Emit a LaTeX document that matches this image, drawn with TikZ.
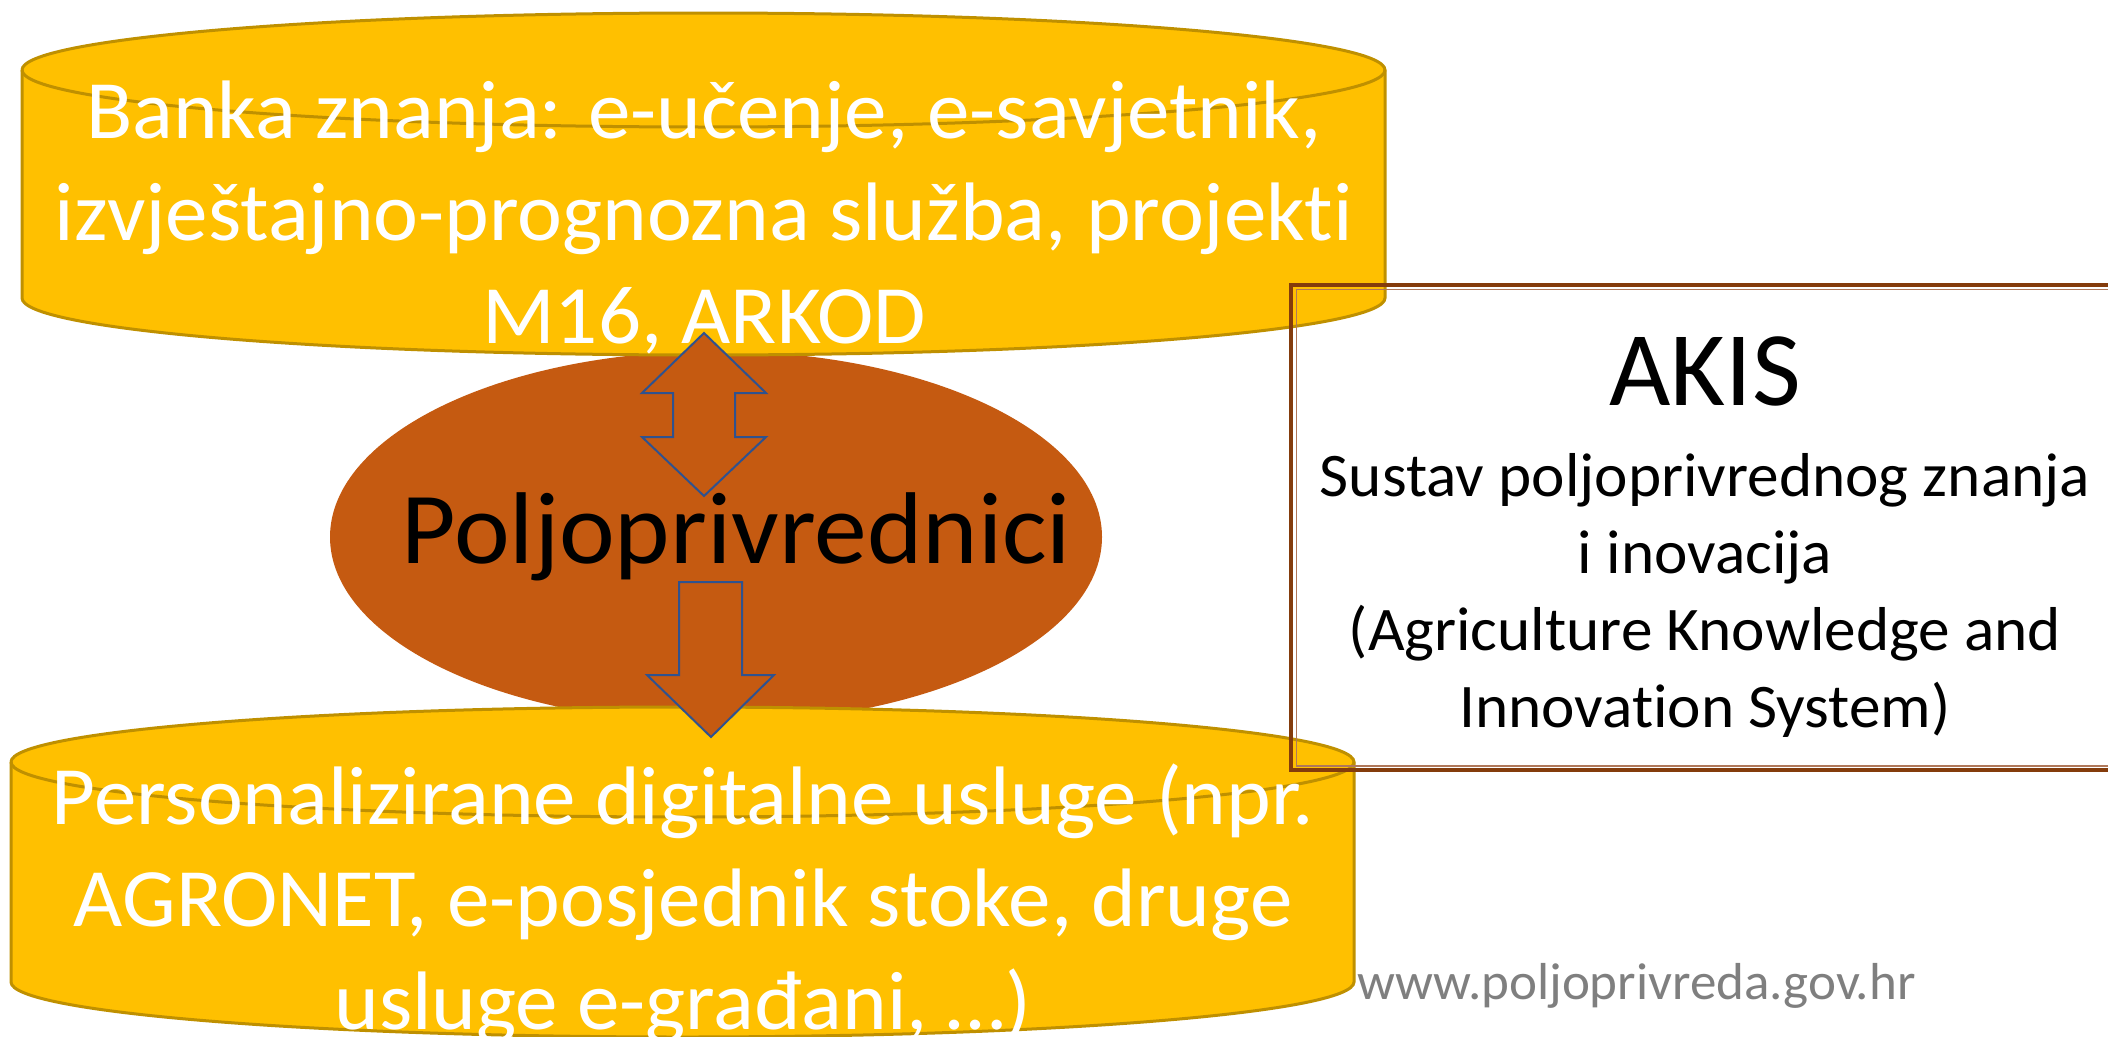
\documentclass[tikz,border=0pt]{standalone}
\usepackage{fontspec}
\setmainfont{Carlito}[Ligatures=NoCommon]
\definecolor{canfill}{HTML}{FFC000}
\definecolor{canline}{HTML}{BF9000}
\definecolor{farmer}{HTML}{C55A11}
\definecolor{arrowline}{HTML}{2F528F}
\definecolor{boxouter}{HTML}{843C0C}
\definecolor{boxinner}{RGB}{176,120,90}
\definecolor{urlgray}{HTML}{7F7F7F}
\begin{document}
\begin{tikzpicture}[x=1pt,y=1pt,
  canstyle/.style={fill=canfill},
  canedge/.style={draw=canline,line width=3pt},
  blockarrow/.style={fill=farmer,draw=arrowline,line width=2pt,line join=miter},
  cantext/.style={text=white,align=center,inner sep=0pt,anchor=base,
    font=\fontsize{83}{102.5}\selectfont\addfontfeatures{FakeStretch=1.025}},
  akistext/.style={text=black,align=center,inner sep=0pt,anchor=base}]
\useasboundingbox (0,0) rectangle (2108,-1036);
% central ellipse
\fill[farmer] (716,-537) ellipse[x radius=386,y radius=186];
\node[inner sep=0pt,anchor=base,font=\fontsize{102}{120}\selectfont\addfontfeatures{FakeStretch=1.035}] (farmers) at (736.5,-563) {Poljoprivrednici};
% top cylinder
\path[canstyle] (22,-70) -- (22,-298) arc[start angle=180,end angle=360,x radius=681.5,y radius=57]
  -- (1385,-70) arc[start angle=0,end angle=180,x radius=681.5,y radius=57] -- cycle;
\draw[canedge] (22,-70) -- (22,-298) arc[start angle=180,end angle=360,x radius=681.5,y radius=57]
  -- (1385,-70) arc[start angle=0,end angle=180,x radius=681.5,y radius=57];
\draw[canedge] (22,-70) arc[start angle=180,end angle=360,x radius=681.5,y radius=57];
% bottom cylinder
\path[canstyle] (11,-762) -- (11,-982) arc[start angle=180,end angle=360,x radius=671.5,y radius=55]
  -- (1354,-762) arc[start angle=0,end angle=180,x radius=671.5,y radius=55] -- cycle;
\draw[canedge] (11,-762) -- (11,-982) arc[start angle=180,end angle=360,x radius=671.5,y radius=55]
  -- (1354,-762) arc[start angle=0,end angle=180,x radius=671.5,y radius=55];
\draw[canedge] (11,-762) arc[start angle=180,end angle=360,x radius=671.5,y radius=55];
% cylinder texts (anchor=base is the last line's baseline)
\node[cantext] (bank) at (704,-343) {Banka znanja: e-učenje, e-savjetnik,\\izvještajno-prognozna služba, projekti\\M16, ARKOD};
\node[cantext] (services) at (683,-1029) {Personalizirane digitalne usluge (npr.\\AGRONET, e-posjednik stoke, druge\\usluge e-građani, …)};
% block arrows
\path[blockarrow] (704,-333) -- (766,-393) -- (735,-393) -- (735,-437) -- (766,-437) -- (704,-496)
  -- (642,-437) -- (673,-437) -- (673,-393) -- (642,-393) -- cycle;
\path[blockarrow] (679,-582) -- (742,-582) -- (742,-675) -- (774,-675) -- (711,-737)
  -- (647,-675) -- (679,-675) -- cycle;
% AKIS box
\draw[boxouter,line width=4pt] (1291,-285) rectangle (2125,-770);
\draw[boxinner,line width=1.3pt] (1296.5,-289.5) rectangle (2125,-766);
\node[akistext,font=\fontsize{106}{120}\selectfont] (akis) at (1705,-405) {AKIS};
\node[akistext,font=\fontsize{62}{76.7}\selectfont\addfontfeatures{FakeStretch=1.02}] (akisdesc) at (1705,-727) {Sustav poljoprivrednog znanja\\i inovacija\\(Agriculture Knowledge and\\Innovation System)};
% url
\node[inner sep=0pt,anchor=base west,text=urlgray,font=\fontsize{52}{60}\selectfont\addfontfeatures{FakeStretch=1.02}] (url) at (1357,-999) {www.poljoprivreda.gov.hr};
\end{tikzpicture}
\end{document}
